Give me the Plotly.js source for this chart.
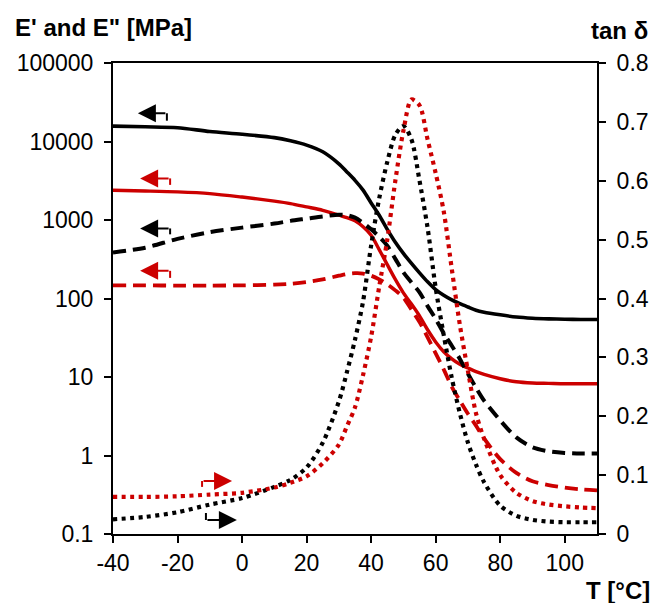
<!DOCTYPE html>
<html>
<head>
<meta charset="utf-8">
<script src="https://cdn.plot.ly/plotly-3.0.1.min.js"></script>
<style>html,body{margin:0;padding:0;background:#fff;}#chart{width:655px;height:603px;}</style>
</head>
<body>
<div id="chart"></div>
<script>
// Temperature [°C]
const temperature = [-40,-30,-20,-10,0,10,15,20,25,30,32.5,35,37.5,40,42.5,45,47.5,50,52.5,55,57.5,60,62.5,65,67.5,70,72.5,75,80,85,90,95,100,105,110];
// E' sample 1 (black solid) [MPa]
const storageBlack = [15700,15400,15000,13400,12400,11200,10200,9000,7400,5200,4100,3200,2400,1650,1150,760,520,375,280,212,163,130,110,96,86,78,71,67,62,58,56,55,54.5,54,54];
// E' sample 2 (red solid) [MPa]
const storageRed = [2390,2340,2280,2170,1960,1740,1620,1470,1330,1150,1070,980,820,640,420,270,175,118,85,60,40,28,21,17,14.5,13,11.7,10.8,9.5,8.7,8.4,8.3,8.2,8.2,8.2];
// E'' sample 1 (black dashed) [MPa]
const lossBlack = [386,444,575,700,800,900,975,1040,1110,1170,1150,1070,920,760,610,470,320,215,160,120,80,55,36,25,17,11,7.3,5,2.8,1.7,1.27,1.13,1.08,1.06,1.06];
// E'' sample 2 (red dashed) [MPa]
const lossRed = [147,147,146,146,147,150,154,162,175,195,205,210,208,195,175,152,127,103,72,50,32,20,12.5,7.5,5,3.4,2.4,1.65,0.9,0.6,0.47,0.42,0.39,0.37,0.36];
// tan delta sample 1 (black dotted)
const tanBlack = [0.025,0.029,0.037,0.05,0.061,0.08,0.092,0.113,0.155,0.225,0.275,0.33,0.395,0.49,0.57,0.632,0.678,0.693,0.67,0.6,0.52,0.418,0.338,0.265,0.205,0.155,0.118,0.088,0.048,0.031,0.024,0.021,0.02,0.02,0.02];
// tan delta sample 2 (red dotted)
const tanRed = [0.063,0.063,0.064,0.067,0.07,0.079,0.087,0.098,0.12,0.152,0.183,0.215,0.27,0.335,0.42,0.5,0.6,0.685,0.738,0.728,0.67,0.613,0.548,0.45,0.355,0.277,0.205,0.162,0.1,0.07,0.056,0.05,0.047,0.045,0.044];

const xTickVals = [-40,-20,0,20,40,60,80,100];
const xTickText = ['-40','-20','0','20','40','60','80','100'];
const yTickVals = [0.1,1,10,100,1000,10000,100000];
const yTickText = ['0.1','1','10','100','1000','10000','100000'];
const y2TickVals = [0,0.1,0.2,0.3,0.4,0.5,0.6,0.7,0.8];
const y2TickText = ['0','0.1','0.2','0.3','0.4','0.5','0.6','0.7','0.8'];

const BLACK = '#000000';
const RED = '#CC0000';
const FONT = 'Liberation Sans, Arial, sans-serif';

function tr(y, color, dash, width, axis) {
  return {
    x: temperature, y: y, type: 'scatter', mode: 'lines',
    yaxis: axis, hoverinfo: 'skip',
    line: {color: color, width: width, dash: dash, shape: 'spline', smoothing: 0.8}
  };
}

const data = [
  tr(storageBlack, BLACK, 'solid', 3.6, 'y'),
  tr(storageRed, RED, 'solid', 3.4, 'y'),
  tr(lossBlack, BLACK, '13px,7px', 4, 'y'),
  tr(lossRed, RED, '13px,7px', 3.8, 'y'),
  tr(tanBlack, BLACK, '4px,4.5px', 4.2, 'y2'),
  tr(tanRed, RED, '4px,4.5px', 4.2, 'y2')
];

function arrow(xh, yh, xt, yt, color) {
  return {x: xh, y: yh, ax: xt, ay: yt, xref: 'x', yref: 'y2', axref: 'x', ayref: 'y2',
    text: '', showarrow: true, arrowhead: 2, arrowsize: 1.8, arrowwidth: 2, arrowcolor: color,
    standoff: 0, startstandoff: 0};
}
function tick(x, y0, y1, color) {
  return {type: 'line', xref: 'x', yref: 'y2', x0: x, x1: x, y0: y0, y1: y1,
    line: {color: color, width: 2}};
}

const annotations = [
  arrow(-32.3, 0.7146, -23.3, 0.7146, BLACK),
  arrow(-31.6, 0.604, -22.3, 0.604, RED),
  arrow(-31.6, 0.519, -22.3, 0.519, BLACK),
  arrow(-31.6, 0.447, -22.3, 0.447, RED),
  arrow(-3.1, 0.090, -12.4, 0.090, RED),
  arrow(-1.6, 0.0238, -11.2, 0.0238, BLACK),
  {text: "<b>E' and E\" [MPa]</b>", xref: 'paper', yref: 'paper', x: -0.2066, y: 1.0764,
   xanchor: 'left', yanchor: 'middle', showarrow: false, font: {family: FONT, size: 24, color: BLACK}},
  {text: '<b>tan δ</b>', xref: 'paper', yref: 'paper', x: 1.1095, y: 1.070,
   xanchor: 'right', yanchor: 'middle', showarrow: false, font: {family: FONT, size: 24, color: BLACK}},
  {text: '<b>T [°C]</b>', xref: 'paper', yref: 'paper', x: 1.1136, y: -0.119,
   xanchor: 'right', yanchor: 'middle', showarrow: false, font: {family: FONT, size: 24, color: BLACK}}
];

const shapes = [
  tick(-23.3, 0.7146, 0.702, BLACK),
  tick(-22.3, 0.604, 0.593, RED),
  tick(-22.3, 0.519, 0.509, BLACK),
  tick(-22.3, 0.447, 0.435, RED),
  tick(-12.4, 0.090, 0.080, RED),
  tick(-11.2, 0.0238, 0.0357, BLACK)
];

const axisCommon = {
  showline: true, linewidth: 2, linecolor: BLACK, showgrid: false, zeroline: false,
  ticks: 'outside', ticklen: 7, tickwidth: 2, tickcolor: BLACK,
  tickfont: {family: FONT, size: 23, color: BLACK}
};

const layout = {
  width: 655, height: 603,
  margin: {l: 113, r: 58, t: 63, b: 69, pad: 0},
  paper_bgcolor: '#ffffff', plot_bgcolor: '#ffffff',
  showlegend: false,
  xaxis: Object.assign({}, axisCommon, {range: [-40, 110], tickvals: xTickVals, ticktext: xTickText, mirror: true}),
  yaxis: Object.assign({}, axisCommon, {type: 'log', range: [-1, 5], tickvals: yTickVals, ticktext: yTickText, ticklabelstandoff: 6}),
  yaxis2: Object.assign({}, axisCommon, {overlaying: 'y', side: 'right', range: [0, 0.8], tickvals: y2TickVals, ticktext: y2TickText, ticklabelstandoff: 6}),
  annotations: annotations,
  shapes: shapes
};

Plotly.newPlot('chart', data, layout, {staticPlot: true, displayModeBar: false});
</script>
</body>
</html>
